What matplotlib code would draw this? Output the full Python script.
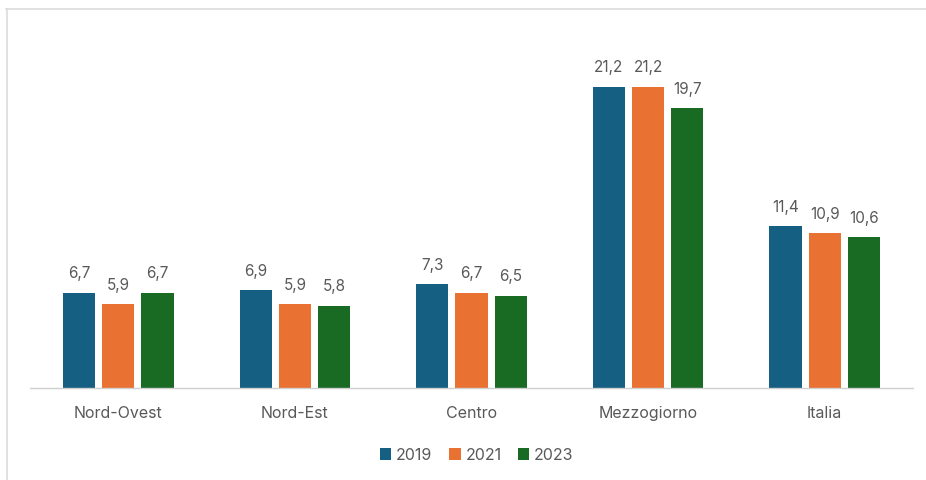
import matplotlib
matplotlib.use("Agg")
import matplotlib.pyplot as plt
from matplotlib.lines import Line2D
import numpy as np

categories = ["Nord-Ovest", "Nord-Est", "Centro", "Mezzogiorno", "Italia"]
years = ["2019", "2021", "2023"]
v2019 = [6.7, 6.9, 7.3, 21.2, 11.4]
v2021 = [5.9, 5.9, 6.7, 21.2, 10.9]
v2023 = [6.7, 5.8, 6.5, 19.7, 10.6]
series = [v2019, v2021, v2023]
colors = ["#156082", "#E97132", "#196B24"]

plt.rcParams['font.family'] = ['Inter', 'DejaVu Sans']
txt = "#595959"

W, H = 926, 480
fig = plt.figure(figsize=(W/100, H/100), dpi=100)
ax = fig.add_axes([30/W, 1-388/H, 883/W, (388-47)/H])

x = np.arange(len(categories))
bw = 0.182
step = 0.222
for i, (vals, c, y) in enumerate(zip(series, colors, years)):
    pos = x + (i-1)*step
    ax.bar(pos, vals, width=bw, color=c, label=y)
    for p, v in zip(pos, vals):
        ax.text(p, v + 0.8, f"{v:.1f}".replace(".", ","), ha="center", va="bottom",
                fontsize=11, color=txt)

ax.set_xlim(-0.5, 4.5)
ax.set_ylim(0, 24)
ax.set_xticks(x)
ax.set_xticklabels(categories, fontsize=11.5, color=txt)
ax.tick_params(axis='x', length=0, pad=13)
ax.set_yticks([])
for s in ["top", "right", "left"]:
    ax.spines[s].set_visible(False)
ax.spines["bottom"].set_color("#d0d0d0")
ax.spines["bottom"].set_linewidth(1)

leg = fig.legend(loc="center", bbox_to_anchor=(477/W, 1-455/H), ncol=3, frameon=False,
                 fontsize=11.5, handlelength=0.7, handleheight=0.7, handletextpad=0.3,
                 columnspacing=1.05)
for t in leg.get_texts():
    t.set_color(txt)

# outer border lines
fig.add_artist(Line2D([6/W, 1], [1-9/H, 1-9/H], color="#dcdcdc", lw=1.2, transform=fig.transFigure))
fig.add_artist(Line2D([7/W, 7/W], [0, 1-9/H], color="#dcdcdc", lw=1.2, transform=fig.transFigure))

fig.savefig("out.png", dpi=100)
